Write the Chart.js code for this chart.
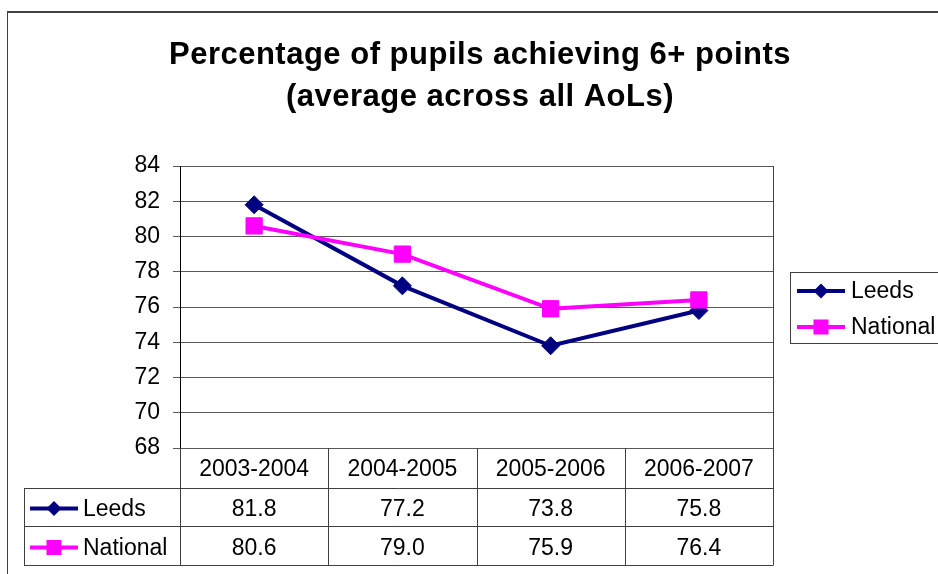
<!DOCTYPE html>
<html>
<head>
<meta charset="utf-8">
<script src="https://cdn.jsdelivr.net/npm/chart.js@4.4.2/dist/chart.umd.min.js"></script>
<style>
  body { margin: 0; background: #fff; }
  #wrap { width: 938px; height: 574px; }
</style>
</head>
<body>
<div id="wrap"><canvas id="chart"></canvas></div>
<script>
const years = ['2003-2004', '2004-2005', '2005-2006', '2006-2007'];
const leeds = [81.8, 77.2, 73.8, 75.8];
const national = [80.6, 79.0, 75.9, 76.4];
const titleLines = ['Percentage of pupils achieving 6+ points', '(average across all AoLs)'];

const FONT = '"Liberation Sans", Arial, sans-serif';
const LINE = '#404040';

const crisp = v => Math.round(v) + 0.5;

// little line + marker sample, used by the legend and the table rows
function drawKey(ctx, x, y, ds) {
  ctx.save();
  ctx.strokeStyle = ds.borderColor;
  ctx.lineWidth = ds.borderWidth;
  ctx.beginPath();
  ctx.moveTo(x, y);
  ctx.lineTo(x + 48, y);
  ctx.stroke();
  ctx.fillStyle = ds.borderColor;
  const cx = x + 24;
  if (ds.pointStyle === 'rectRot') {
    const r = 7.5;
    ctx.beginPath();
    ctx.moveTo(cx, y - r);
    ctx.lineTo(cx + r, y);
    ctx.lineTo(cx, y + r);
    ctx.lineTo(cx - r, y);
    ctx.closePath();
    ctx.fill();
  } else {
    ctx.fillRect(cx - 7.5, y - 7.5, 15, 15);
  }
  ctx.restore();
}

const sheetPlugin = {
  id: 'sheet',
  afterDraw(chart) {
    const { ctx, chartArea: a, scales: { x } } = chart;
    const sets = chart.data.datasets;
    ctx.save();

    // outer chart frame
    ctx.fillStyle = LINE;
    ctx.fillRect(7, 11, chart.width - 7, 2);
    ctx.fillRect(7, 11, 1, chart.height - 11);

    // title
    ctx.fillStyle = '#000';
    ctx.font = 'bold 31px ' + FONT;
    ctx.letterSpacing = '0.5px';
    ctx.textAlign = 'center';
    ctx.textBaseline = 'alphabetic';
    titleLines.forEach((t, i) => ctx.fillText(t, 480, 64 + i * 42));
    ctx.letterSpacing = '0px';

    // data table under the plot
    const rowH = 39;
    const top = a.bottom;
    const bottom = top + rowH * (sets.length + 1);
    const edges = [a.left];
    for (let i = 0; i < years.length - 1; i++) {
      edges.push((x.getPixelForValue(i) + x.getPixelForValue(i + 1)) / 2);
    }
    edges.push(a.right);
    const labelLeft = 24;

    ctx.strokeStyle = LINE;
    ctx.lineWidth = 1;
    ctx.beginPath();
    edges.forEach(e => {
      ctx.moveTo(crisp(e), e === a.right ? a.top : top);
      ctx.lineTo(crisp(e), bottom);
    });
    for (let r = 1; r <= sets.length + 1; r++) {
      ctx.moveTo(labelLeft, crisp(top + r * rowH + (r === 1 ? 1 : 0)));
      ctx.lineTo(crisp(a.right), crisp(top + r * rowH + (r === 1 ? 1 : 0)));
    }
    ctx.moveTo(crisp(labelLeft), top + rowH + 1);
    ctx.lineTo(crisp(labelLeft), bottom);
    ctx.stroke();

    ctx.font = '23px ' + FONT;
    ctx.textBaseline = 'middle';
    ctx.textAlign = 'center';
    ctx.fillStyle = '#000';
    years.forEach((y, i) => ctx.fillText(y, x.getPixelForValue(i), top + rowH / 2 + 2));
    sets.forEach((ds, r) => {
      const cy = top + rowH * (r + 1) + rowH / 2 + 3;
      ctx.textAlign = 'center';
      ds.data.forEach((v, i) => ctx.fillText(v.toFixed(1), x.getPixelForValue(i), cy));
      drawKey(ctx, 30, cy - 1, ds);
      ctx.textAlign = 'left';
      ctx.fillText(ds.label, 83, cy);
    });

    // legend box on the right
    ctx.strokeStyle = LINE;
    ctx.strokeRect(790.5, 272.5, 200, 71);
    sets.forEach((ds, i) => {
      const cy = 291 + i * 36;
      drawKey(ctx, 797, cy, ds);
      ctx.textAlign = 'left';
      ctx.fillText(ds.label, 851, cy + 1);
    });

    ctx.restore();
  }
};

new Chart(document.getElementById('chart'), {
  type: 'line',
  data: {
    labels: years,
    datasets: [
      {
        label: 'Leeds',
        data: leeds,
        borderColor: '#000080',
        backgroundColor: '#000080',
        pointBackgroundColor: '#000080',
        pointBorderColor: '#000080',
        borderWidth: 4,
        pointStyle: 'rectRot',
        pointRadius: 9,
        pointBorderWidth: 1,
        order: 1
      },
      {
        label: 'National',
        data: national,
        borderColor: '#FF00FF',
        backgroundColor: '#FF00FF',
        pointBackgroundColor: '#FF00FF',
        pointBorderColor: '#FF00FF',
        borderWidth: 4,
        pointStyle: 'rect',
        pointRadius: 11.5,
        pointBorderWidth: 1,
        order: 0
      }
    ]
  },
  options: {
    responsive: true,
    maintainAspectRatio: false,
    animation: false,
    layout: { padding: { top: 166, right: 165, bottom: 126, left: 0 } },
    plugins: {
      legend: { display: false },
      title: { display: false },
      tooltip: { enabled: false }
    },
    scales: {
      x: { display: false, offset: true },
      y: {
        min: 68,
        max: 84,
        ticks: { stepSize: 2, color: '#000', padding: 13, font: { family: FONT, size: 23 } },
        grid: { color: '#595959', tickLength: 7 },
        border: { color: '#000', width: 1 },
        afterFit: scale => { scale.width = 180; }
      }
    }
  },
  plugins: [sheetPlugin]
});
</script>
</body>
</html>
